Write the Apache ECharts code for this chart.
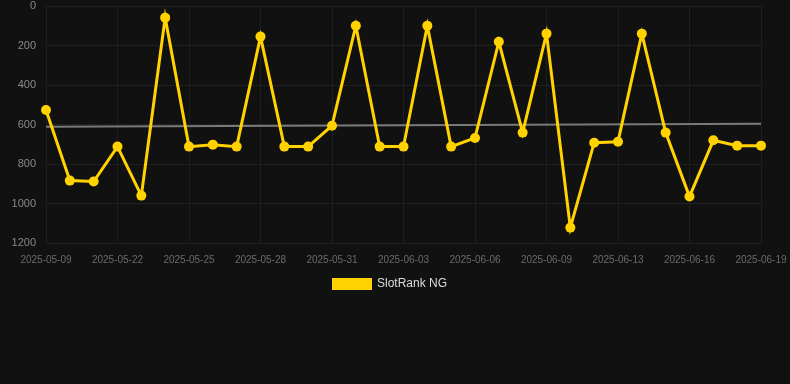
<!DOCTYPE html>
<html><head><meta charset="utf-8">
<script src="https://cdn.jsdelivr.net/npm/echarts@6/dist/echarts.min.js"></script>
<style>html,body{margin:0;padding:0;background:#111111;}#c{width:790px;height:384px;}</style>
</head><body><div id="c"></div>
<script>
const categories = ["2025-05-09","2025-05-15","2025-05-20","2025-05-22","2025-05-23","2025-05-24","2025-05-25","2025-05-26","2025-05-27","2025-05-28","2025-05-29","2025-05-30","2025-05-31","2025-06-01","2025-06-02","2025-06-03","2025-06-04","2025-06-05","2025-06-06","2025-06-07","2025-06-08","2025-06-09","2025-06-10","2025-06-12","2025-06-13","2025-06-14","2025-06-15","2025-06-16","2025-06-17","2025-06-18","2025-06-19"];
const slotRank = [527,884,889,712,960,59,712,702,712,155,712,712,606,100,712,712,100,712,668,181,641,140,1122,692,687,140,641,965,680,707,707];
const trendStart = 611;
const trendEnd = 596;
const yTicks = [0,200,400,600,800,1000,1200];
const seriesName = "SlotRank NG";

const chart = echarts.init(document.getElementById('c'), null, {renderer:'canvas'});
chart.setOption({
  backgroundColor:'#111111',
  animation:false,
  grid:{left:46,right:29,top:6,bottom:141,containLabel:false},
  legend:{data:[seriesName],top:273,left:327,padding:5,itemWidth:40,itemHeight:12,itemGap:10,icon:'rect',
    textStyle:{color:'#dddddd',fontSize:12,fontFamily:'Liberation Sans, Arial, sans-serif'}},
  xAxis:{type:'category',data:categories,boundaryGap:false,
    axisLine:{show:false},axisTick:{show:false},
    axisLabel:{interval:2,color:'#6a6a6a',fontSize:10,margin:12,fontFamily:'Liberation Sans, Arial, sans-serif'},
    splitLine:{show:true,interval:2,lineStyle:{color:'#1e1e1e',width:1}}},
  yAxis:{type:'value',inverse:true,min:yTicks[0],max:yTicks[yTicks.length-1],interval:200,
    axisLine:{show:false},axisTick:{show:false},
    axisLabel:{color:'#888888',fontSize:11,margin:10,fontFamily:'Liberation Sans, Arial, sans-serif',
      formatter:function(v){return String(v);}},
    splitLine:{lineStyle:{color:'#202020',width:1}}},
  series:[{
    name:seriesName,type:'line',data:slotRank,
    color:'#FFD200',
    symbol:'circle',symbolSize:10,
    lineStyle:{color:'#FFD200',width:3,join:'miter',miterLimit:10},
    itemStyle:{color:'#FFD200'},
    z:3,
    markLine:{silent:true,symbol:['none','none'],label:{show:false},
      lineStyle:{color:'#7a7a7a',width:2,type:'solid'},
      data:[[{coord:[0,trendStart]},{coord:[categories.length-1,trendEnd]}]],z:2}
  }]
});
</script></body></html>
